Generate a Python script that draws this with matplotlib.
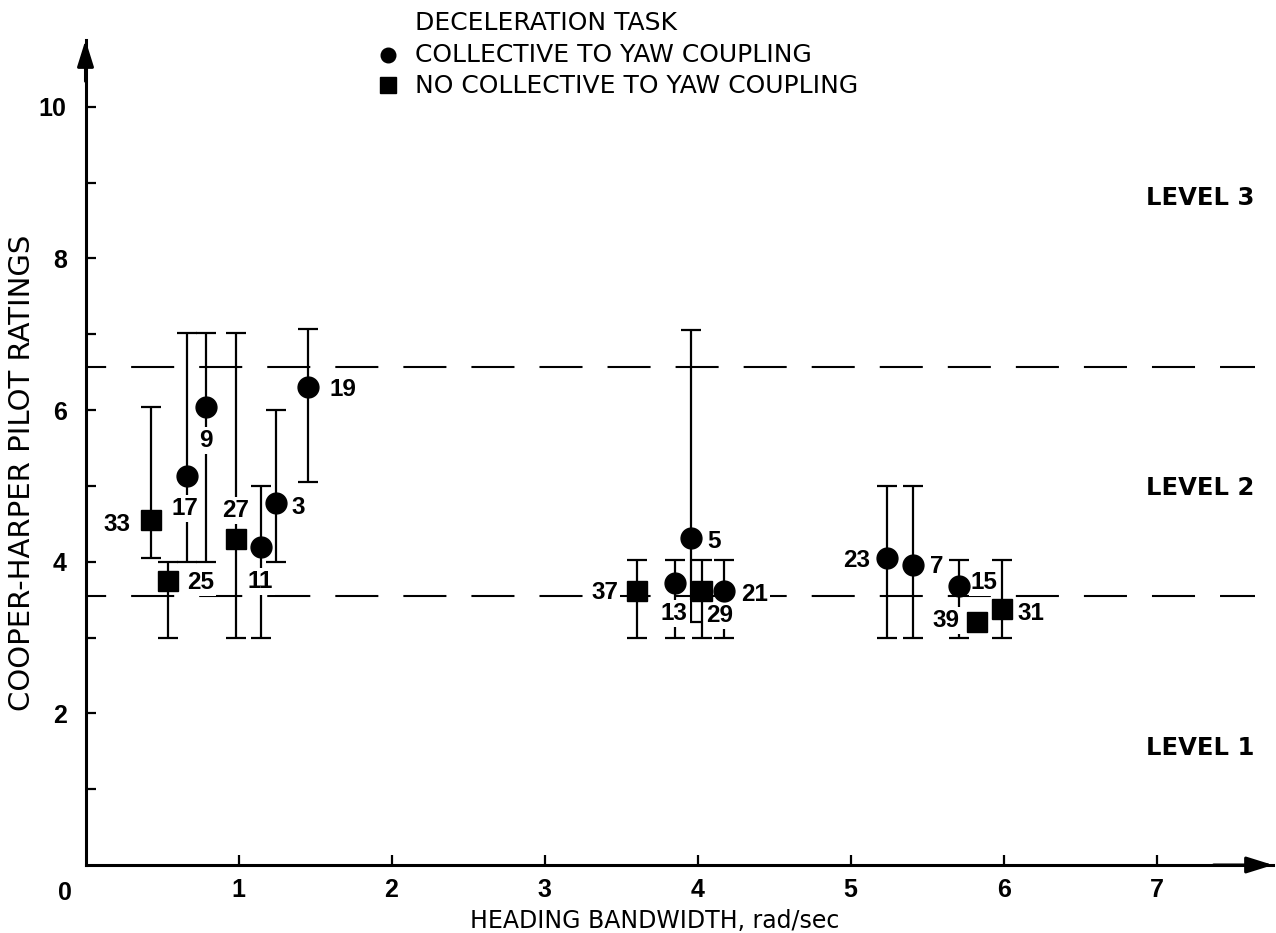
import numpy as np
import matplotlib
matplotlib.use("Agg")
import matplotlib.pyplot as plt
from matplotlib.lines import Line2D

plt.rcParams['lines.scale_dashes'] = False

# data
circ_id = ['3', '5', '7', '9', '11', '13', '15', '17', '19', '21', '23']
circ_x = [1.243, 3.955, 5.406, 0.785, 1.147, 3.853, 5.705, 0.665, 1.456, 4.175, 5.236]
circ_y = [4.77, 4.31, 3.96, 6.04, 4.19, 3.72, 3.68, 5.13, 6.30, 3.61, 4.05]
circ_lo = [4.0, 3.2, 3.0, 4.0, 3.0, 3.0, 3.0, 4.0, 5.05, 3.0, 3.0]
circ_hi = [6.0, 7.05, 5.0, 7.02, 5.0, 4.02, 4.02, 7.02, 7.07, 4.02, 5.0]

sq_id = ['25', '27', '29', '31', '33', '37', '39']
sq_x = [0.54, 0.981, 4.027, 5.988, 0.426, 3.607, 5.825]
sq_y = [3.75, 4.30, 3.62, 3.37, 4.55, 3.62, 3.21]
sq_lo = [3.0, 3.0, 3.0, 3.0, 4.05, 3.0, np.nan]
sq_hi = [4.0, 7.02, 4.02, 4.02, 6.04, 4.02, np.nan]

level_bounds = [3.55, 6.57]
level_names = ['LEVEL 1', 'LEVEL 2', 'LEVEL 3']
level_text_y = [1.54, 4.97, 8.79]

# label offsets in pixels (dx, dy, ha)
offs = {
    '33': (-20, -2, 'right'), '25': (19, 0, 'left'), '17': (-2, -30, 'center'),
    '9': (0, -31, 'center'), '27': (0, 31, 'center'), '11': (-1, -32, 'center'),
    '3': (16, -2, 'left'), '19': (21, 0, 'left'), '37': (-19, 0, 'right'),
    '13': (-1, -28, 'center'), '5': (17, -1, 'left'), '29': (18, -23, 'center'),
    '21': (17, -1, 'left'), '23': (-17, 0, 'right'), '7': (17, 0, 'left'),
    '15': (12, 6, 'left'), '39': (-17, 3, 'right'), '31': (16, -2, 'left'),
}

W, H = 1276, 933
fig = plt.figure(figsize=(W / 100, H / 100), dpi=100)
ax = fig.add_axes([85.5 / W, 68 / H, 1187.5 / W, 825 / H])
ax.set_xlim(0, 7.76)
ax.set_ylim(0, 10.88)

for s in ['top', 'right']:
    ax.spines[s].set_visible(False)
for s in ['left', 'bottom']:
    ax.spines[s].set_linewidth(2.2)

# level boundaries
for b in level_bounds:
    ax.axhline(b, xmin=0, xmax=0.985, color='k', lw=1.5,
               linestyle=(16.5, (31, 18)), zorder=1)

bold = dict(family='Liberation Sans', weight='bold', size=17.5)

# error bars
cx, cy = np.array(circ_x), np.array(circ_y)
ax.errorbar(cx, cy, yerr=[cy - np.array(circ_lo), np.array(circ_hi) - cy],
            fmt='none', ecolor='k', elinewidth=1.6, capsize=7.2, capthick=1.6, zorder=2)
sx, sy = np.array(sq_x), np.array(sq_y)
ax.errorbar(sx, sy, yerr=[sy - np.array(sq_lo), np.array(sq_hi) - sy],
            fmt='none', ecolor='k', elinewidth=1.6, capsize=7.2, capthick=1.6, zorder=2)

# markers
ax.plot(cx, cy, 'o', color='k', ms=15, zorder=4)
ax.plot(sx, sy, 's', color='k', ms=14.5, zorder=4)

# point labels
for ids, xs, ys in [(circ_id, circ_x, circ_y), (sq_id, sq_x, sq_y)]:
    for t, x, y in zip(ids, xs, ys):
        dx, dy, ha = offs[t]
        ax.annotate(t, xy=(x, y), xytext=(dx, dy - 8.7), textcoords='offset pixels',
                    ha=ha, va='baseline', zorder=3,
                    bbox=dict(boxstyle='square,pad=0.08', fc='white', ec='none'),
                    **bold)

# level texts
for name, ly in zip(level_names, level_text_y):
    ax.text(6.93, ly, name, ha='left', va='center', family='DejaVu Sans',
            weight='bold', size=17.5)

# ticks
ax.set_xticks(range(1, 8))
ax.set_yticks(range(1, 11))
ax.set_yticklabels(['' if v % 2 else str(v) for v in range(1, 11)])
ax.tick_params(direction='in', length=7.5, width=1.6)
ax.tick_params(axis='x', pad=9.5)
ax.tick_params(axis='y', pad=13.5)
for lab in ax.get_xticklabels() + ax.get_yticklabels():
    lab.set_fontfamily('Liberation Sans')
    lab.set_fontweight('bold')
    lab.set_fontsize(18)
ax.annotate('0', xy=(0, 0), xytext=(-20.5, -34.5), textcoords='offset pixels',
            ha='center', va='baseline', family='Liberation Sans', weight='bold', size=18)

# axis labels
ax.set_xlabel('HEADING BANDWIDTH, rad/sec', family='DejaVu Sans', size=17)
ax.xaxis.set_label_coords((655 - 85.5) / 1187.5, (865 - 928) / 825)
ax.xaxis.label.set_va('baseline')
ax.set_ylabel('COOPER-HARPER PILOT RATINGS', family='DejaVu Sans', size=21)
ax.yaxis.set_label_coords((22.5 - 85.5) / 1187.5, (865 - 473) / 825)
ax.yaxis.label.set_va('center')

# axis arrows
arrow = dict(arrowstyle='-|>,head_length=16,head_width=5', color='k', lw=2.2,
             mutation_scale=1, shrinkA=0, shrinkB=0)
ax.annotate('', xy=(1, 0), xytext=(0.95, 0), xycoords='axes fraction', arrowprops=arrow)
ax.annotate('', xy=(0, 1), xytext=(0, 0.95), xycoords='axes fraction', arrowprops=arrow)

# legend
leg_font = dict(family='DejaVu Sans', size=18, va='baseline', ha='left')
fig.text(415 / W, 1 - 30 / H, 'DECELERATION TASK', **leg_font)
fig.text(415 / W, 1 - 62 / H, 'COLLECTIVE TO YAW COUPLING', **leg_font)
fig.text(415 / W, 1 - 93 / H, 'NO COLLECTIVE TO YAW COUPLING', **leg_font)
fig.add_artist(Line2D([388 / W], [1 - 54.5 / H], marker='o', ms=10.5, color='k',
                      transform=fig.transFigure))
fig.add_artist(Line2D([388 / W], [1 - 85 / H], marker='s', ms=11, color='k',
                      transform=fig.transFigure))

fig.savefig('out.png', dpi=100)
